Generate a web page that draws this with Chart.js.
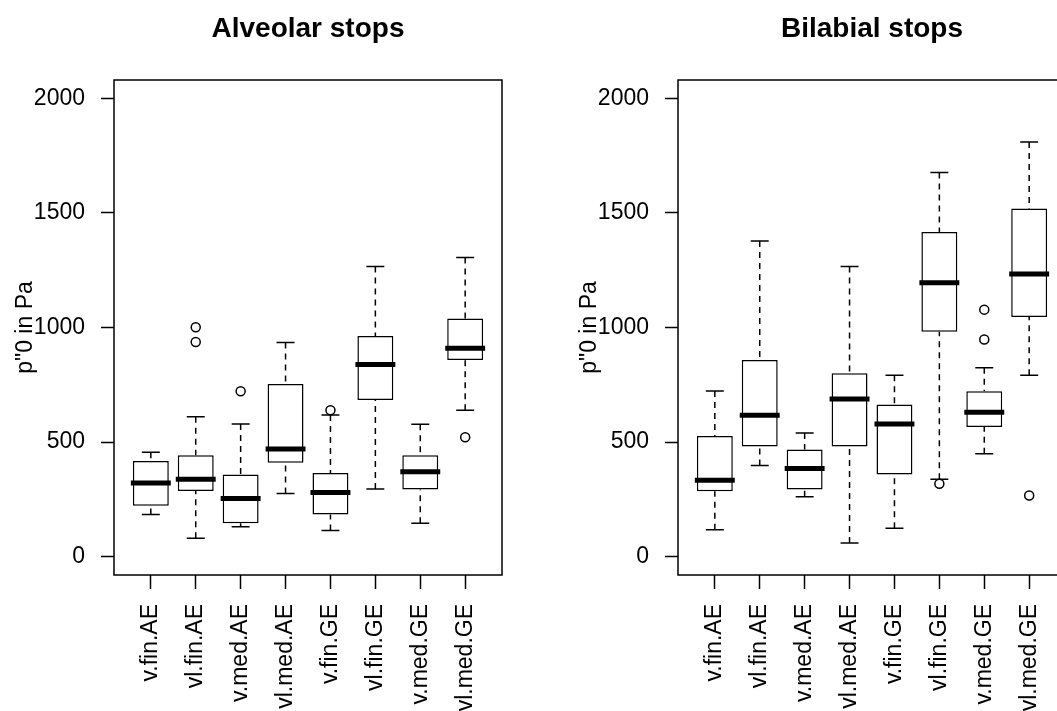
<!DOCTYPE html>
<html>
<head>
<meta charset="utf-8">
<script src="https://cdn.jsdelivr.net/npm/chart.js@4.4.1/dist/chart.umd.min.js"></script>
<style>
  html, body { margin: 0; padding: 0; background: #fff; overflow: hidden; }
  body { width: 1057px; height: 711px; position: relative; }
  .panel { position: absolute; top: 0; width: 528px; height: 711px; }
  #left { left: 0; }
  #right { left: 564px; }
</style>
</head>
<body>
<div class="panel" id="left"><canvas id="alveolar"></canvas></div>
<div class="panel" id="right"><canvas id="bilabial"></canvas></div>
<script>
// categories + y ticks
const categories = ['v.fin.AE', 'vl.fin.AE', 'v.med.AE', 'vl.med.AE', 'v.fin.GE', 'vl.fin.GE', 'v.med.GE', 'vl.med.GE'];
const yTicks = [0, 500, 1000, 1500, 2000];

// Alveolar stops
const alvLow  = [184,  80, 131, 276, 114,  295, 146,  639];
const alvQ1   = [222, 287, 146, 410, 184,  684, 293,  858];
const alvMed  = [321, 338, 254, 470, 280,  839, 371,  909];
const alvQ3   = [417, 443, 359, 754, 365,  963, 443, 1039];
const alvHigh = [456, 611, 579, 935, 618, 1266, 578, 1305];
const alvOutCat = [2, 2, 3, 5, 8];
const alvOutVal = [937, 1001, 722, 639, 521];

// Bilabial stops
const bilLow  = [118,  398, 261,   60, 124,  338, 449,  792];
const bilQ1   = [286,  481, 293,  481, 359,  982, 566, 1046];
const bilMed  = [333,  617, 385,  688, 579, 1195, 630, 1234];
const bilQ3   = [527,  858, 468,  800, 664, 1417, 722, 1519];
const bilHigh = [723, 1377, 540, 1266, 792, 1676, 824, 1810];
const bilOutCat = [6, 7, 7, 8];
const bilOutVal = [318, 948, 1078, 267];

Chart.defaults.font.family = "'Liberation Sans', Arial, sans-serif";
Chart.defaults.color = '#000';

// whiskers, caps, medians + frame
function boxParts(low, med, high, q1, q3){
  return {
    id: 'boxParts',
    afterDatasetsDraw(chart){
      const {ctx, chartArea, scales: {x, y}} = chart;
      const unit = x.getPixelForValue(2) - x.getPixelForValue(1);
      ctx.save();
      ctx.strokeStyle = '#000';
      for (let i = 0; i < med.length; i++) {
        const cx = x.getPixelForValue(i + 1);
        const yLo = y.getPixelForValue(low[i]);
        const yHi = y.getPixelForValue(high[i]);
        // dashed whiskers
        ctx.lineWidth = 1.5;
        ctx.setLineDash([6, 5]);
        ctx.beginPath();
        ctx.moveTo(cx, yHi); ctx.lineTo(cx, y.getPixelForValue(q3[i]));
        ctx.moveTo(cx, yLo); ctx.lineTo(cx, y.getPixelForValue(q1[i]));
        ctx.stroke();
        // caps
        ctx.setLineDash([]);
        ctx.beginPath();
        ctx.moveTo(cx - unit * 0.2, yHi); ctx.lineTo(cx + unit * 0.2, yHi);
        ctx.moveTo(cx - unit * 0.2, yLo); ctx.lineTo(cx + unit * 0.2, yLo);
        ctx.stroke();
        // median
        const yMed = y.getPixelForValue(med[i]);
        ctx.lineWidth = 5;
        ctx.beginPath();
        ctx.moveTo(cx - unit * 0.4 - 2, yMed); ctx.lineTo(cx + unit * 0.4 + 2, yMed);
        ctx.stroke();
      }
      ctx.lineWidth = 1.5;
      ctx.strokeRect(chartArea.left, chartArea.top, chartArea.width, chartArea.height);
      ctx.restore();
    }
  };
}

function makePanel(id, title, low, q1, med, q3, high, outCat, outVal){
  new Chart(document.getElementById(id), {
    type: 'bar',
    data: {
      datasets: [
        {
          label: 'box',
          data: q1.map((v, i) => ({x: i + 1, y: [q1[i], q3[i]]})),
          backgroundColor: '#fff',
          borderColor: '#000',
          borderWidth: 1.5,
          borderSkipped: false,
          barPercentage: 0.8,
          categoryPercentage: 1
        },
        {
          type: 'scatter',
          label: 'outliers',
          data: outCat.map((c, i) => ({x: c, y: outVal[i]})),
          pointStyle: 'circle',
          pointRadius: 4.5,
          pointBorderWidth: 1.5,
          borderColor: '#000',
          backgroundColor: 'rgba(0,0,0,0)'
        }
      ]
    },
    options: {
      responsive: true,
      maintainAspectRatio: false,
      animation: false,
      events: [],
      layout: { padding: {left: 0, right: 26, top: 0, bottom: 0} },
      scales: {
        x: {
          type: 'linear',
          min: 0.18,
          max: 8.82,
          offset: false,
          afterBuildTicks: (ax) => { ax.ticks = categories.map((c, i) => ({value: i + 1})); },
          afterFit: (ax) => { ax.height = 136; },
          grid: { display: true, drawOnChartArea: false, drawTicks: true, tickLength: 14, tickColor: '#000', tickWidth: 1.5, offset: false },
          border: { display: false },
          ticks: {
            autoSkip: false, maxRotation: 90, minRotation: 90, padding: 15,
            font: {size: 23},
            callback: (v) => categories[Math.round(v) - 1]
          }
        },
        y: {
          min: -80,
          max: 2080,
          afterBuildTicks: (ax) => { ax.ticks = yTicks.map(v => ({value: v})); },
          afterFit: (ax) => { ax.width = 114; },
          grid: { display: true, drawOnChartArea: false, drawTicks: true, tickLength: 13, tickColor: '#000', tickWidth: 1.5 },
          border: { display: false },
          ticks: { padding: 16, font: {size: 23}, callback: (v) => String(v) },
          title: { display: true, text: 'p"0 in Pa', font: {size: 23}, padding: {top: 12, bottom: 0} }
        }
      },
      plugins: {
        legend: { display: false },
        tooltip: { enabled: false },
        title: {
          display: true, text: title, fullSize: false,
          font: {size: 28, weight: 'bold'},
          padding: {top: 12, bottom: 34.4}
        }
      }
    },
    plugins: [boxParts(low, med, high, q1, q3)]
  });
}

makePanel('alveolar', 'Alveolar stops', alvLow, alvQ1, alvMed, alvQ3, alvHigh, alvOutCat, alvOutVal);
makePanel('bilabial', 'Bilabial stops', bilLow, bilQ1, bilMed, bilQ3, bilHigh, bilOutCat, bilOutVal);
</script>
</body>
</html>
